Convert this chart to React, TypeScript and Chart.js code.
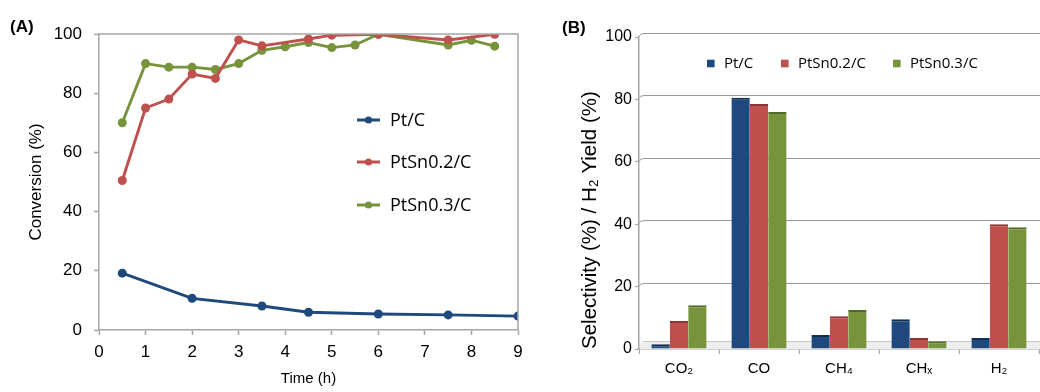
import React, { useEffect, useRef } from 'react';
import { Chart, registerables } from 'chart.js';
Chart.register(...registerables);

// ---------- Data: panel (A) conversion vs time ----------
const ptC_time = [0.5, 2, 3.5, 4.5, 6, 7.5, 9];
const ptC_conv = [19.2, 10.7, 8.1, 6.0, 5.4, 5.1, 4.7];
const ptSn02_time = [0.5, 1, 1.5, 2, 2.5, 3, 3.5, 4.5, 5, 6, 7.5, 8.5];
const ptSn02_conv = [50.5, 75, 78, 86.5, 85, 98, 96, 98.3, 99.6, 99.9, 98, 99.9];
const ptSn03_time = [0.5, 1, 1.5, 2, 2.5, 3, 3.5, 4, 4.5, 5, 5.5, 6, 7.5, 8, 8.5];
const ptSn03_conv = [70, 90, 88.8, 88.8, 88, 90, 94.5, 95.7, 97.1, 95.4, 96.3, 99.9, 96.3, 97.9, 95.9];

// ---------- Data: panel (B) selectivity ----------
const products = ['CO\u2082', 'CO', 'CH\u2084', 'CH\u2093', 'H\u2082'];
const ptC_sel = [1.5, 80.5, 4.5, 9.5, 3.5];
const ptSn02_sel = [9, 78.5, 10.5, 3.5, 40];
const ptSn03_sel = [14, 76, 12.5, 2.5, 39];

const seriesNames = ['Pt/C', 'PtSn0.2/C', 'PtSn0.3/C'];

const BLUE = '#1F497D';
const RED = '#C0504D';
const GREEN = '#77933C';
const BLUE_D = '#142f52';
const RED_D = '#8e3532';
const GREEN_D = '#546a29';
const AXIS = '#a6a6a6';

const FONT = "'Liberation Sans', Arial, sans-serif";
const LFONT = "'Open Sans', sans-serif";

const panelLabel = (text: string, x: number, y: number) => ({
  id: 'panelLabel' + text,
  afterDraw(chart: any) {
    const ctx = chart.ctx;
    ctx.save();
    ctx.font = `bold 17px ${FONT}`;
    ctx.fillStyle = '#000';
    ctx.textBaseline = 'middle';
    ctx.textAlign = 'left';
    ctx.fillText(text, x, y);
    ctx.restore();
  },
});

const boxPlugin = {
  id: 'boxA',
  afterDraw(chart: any) {
    const { ctx, chartArea: a } = chart;
    ctx.save();
    ctx.strokeStyle = AXIS;
    ctx.lineWidth = 1.5;
    ctx.beginPath();
    ctx.moveTo(a.left, a.top);
    ctx.lineTo(a.right, a.top);
    ctx.lineTo(a.right, a.bottom);
    ctx.stroke();
    ctx.restore();
  },
};

const legendA = {
  id: 'legendA',
  afterDraw(chart: any) {
    const ctx = chart.ctx;
    const rows = [120, 162, 205];
    ctx.save();
    chart.data.datasets.forEach((ds: any, i: number) => {
      const y = rows[i];
      ctx.strokeStyle = ds.borderColor;
      ctx.lineWidth = 3;
      ctx.beginPath();
      ctx.moveTo(357, y);
      ctx.lineTo(380, y);
      ctx.stroke();
      ctx.fillStyle = ds.borderColor;
      ctx.beginPath();
      ctx.arc(368.5, y, 3.6, 0, Math.PI * 2);
      ctx.fill();
      ctx.fillStyle = '#000';
      ctx.font = `18px ${LFONT}`;
      ctx.textBaseline = 'middle';
      ctx.textAlign = 'left';
      ctx.fillText(ds.label, 390, y + 1);
    });
    ctx.restore();
  },
};

const legendB = {
  id: 'legendB',
  afterDraw(chart: any) {
    const ctx = chart.ctx;
    const xs = [167, 241, 353];
    const y = 63.5;
    ctx.save();
    chart.data.datasets.forEach((ds: any, i: number) => {
      ctx.fillStyle = ds.backgroundColor;
      ctx.fillRect(xs[i], y - 3.8, 7.6, 7.6);
      ctx.fillStyle = '#000';
      ctx.font = `15px ${LFONT}`;
      ctx.textBaseline = 'middle';
      ctx.textAlign = 'left';
      ctx.fillText(ds.label, xs[i] + 17, y + 0.5);
    });
    ctx.restore();
  },
};

const wallB = {
  id: 'wallB',
  beforeDatasetsDraw(chart: any) {
    const { ctx, chartArea: a, scales } = chart;
    const ys = scales.y;
    ctx.save();
    // floor
    ctx.fillStyle = '#eeeeee';
    ctx.fillRect(a.left + 1, a.bottom - 7, a.right - a.left, 7);
    ctx.strokeStyle = '#c8c8c8';
    ctx.lineWidth = 1;
    ctx.beginPath();
    ctx.moveTo(a.left + 4, a.bottom - 7.5);
    ctx.lineTo(a.right + 2, a.bottom - 7.5);
    ctx.stroke();
    // back wall grid lines
    ctx.strokeStyle = '#9a9a9a';
    ctx.lineWidth = 1;
    for (const v of [20, 40, 60, 80, 100]) {
      const y = Math.round(ys.getPixelForValue(v)) - 3.5;
      ctx.beginPath();
      ctx.moveTo(a.left, y + 3);
      ctx.quadraticCurveTo(a.left + 1, y, a.left + 5, y);
      ctx.lineTo(a.right + 2, y);
      ctx.stroke();
    }
    ctx.restore();
  },
};

export default function App() {
  const refA = useRef<HTMLCanvasElement>(null);
  const refB = useRef<HTMLCanvasElement>(null);

  useEffect(() => {
    const mk = (label: string, xs: number[], ys: number[], color: string) => ({
      label,
      data: xs.map((t, i) => ({ x: t, y: ys[i] })),
      borderColor: color,
      backgroundColor: color,
      borderWidth: 2.9,
      pointRadius: 4.5,
      pointBorderWidth: 0,
      pointBackgroundColor: color,
      tension: 0,
    });

    const chartA = new Chart(refA.current!, {
      type: 'line',
      data: {
        datasets: [
          mk(seriesNames[0], ptC_time, ptC_conv, BLUE),
          mk(seriesNames[1], ptSn02_time, ptSn02_conv, RED),
          mk(seriesNames[2], ptSn03_time, ptSn03_conv, GREEN),
        ],
      },
      options: {
        responsive: false,
        animation: false,
        layout: { padding: { left: 0, right: 22, top: 34, bottom: 0 } },
        plugins: { legend: { display: false }, tooltip: { enabled: false } },
        scales: {
          x: {
            type: 'linear',
            min: 0,
            max: 9,
            ticks: { stepSize: 1, color: '#000', font: { family: FONT, size: 17 }, padding: 7 },
            grid: { drawOnChartArea: false, tickLength: 5, tickColor: AXIS, tickWidth: 1.5 },
            border: { color: AXIS, width: 1.5 },
            title: {
              display: true,
              text: 'Time (h)',
              color: '#000',
              font: { family: FONT, size: 15 },
              padding: { top: 0, bottom: 4 },
            },
            afterFit: (s: any) => {
              s.height = 62;
            },
          },
          y: {
            min: 0,
            max: 100,
            ticks: { stepSize: 20, color: '#000', font: { family: FONT, size: 17 }, padding: 12 },
            grid: { drawOnChartArea: false, tickLength: 5, tickColor: AXIS, tickWidth: 1.5 },
            border: { color: AXIS, width: 1.5 },
            title: {
              display: true,
              text: 'Conversion (%)',
              color: '#000',
              font: { family: FONT, size: 17 },
              padding: { top: 26, bottom: 0 },
            },
            afterFit: (s: any) => {
              s.width = 99;
            },
          },
        },
      } as any,
      plugins: [boxPlugin, legendA, panelLabel('(A)', 10, 27)],
    });

    const mkBar = (label: string, data: number[], color: string, dark: string) => ({
      label,
      data,
      backgroundColor: color,
      borderColor: dark,
      borderWidth: { top: 2, left: 0, right: 0, bottom: 0 },
      borderSkipped: 'bottom',
      categoryPercentage: 0.69,
      barPercentage: 1,
    });

    const chartB = new Chart(refB.current!, {
      type: 'bar',
      data: {
        labels: products,
        datasets: [
          mkBar(seriesNames[0], ptC_sel, BLUE, BLUE_D),
          mkBar(seriesNames[1], ptSn02_sel, RED, RED_D),
          mkBar(seriesNames[2], ptSn03_sel, GREEN, GREEN_D),
        ],
      },
      options: {
        responsive: false,
        animation: false,
        layout: { padding: { left: 0, right: 1, top: 37, bottom: 0 } },
        plugins: { legend: { display: false }, tooltip: { enabled: false } },
        scales: {
          x: {
            ticks: { color: '#000', font: { family: FONT, size: 15 }, padding: 6 },
            grid: { drawOnChartArea: false, offset: true, tickLength: 5, tickColor: AXIS, tickWidth: 1.2 },
            border: { color: AXIS, width: 1.5 },
            afterFit: (s: any) => {
              s.height = 43;
            },
          },
          y: {
            min: 0,
            max: 100,
            ticks: { stepSize: 20, color: '#000', font: { family: FONT, size: 16 }, padding: 3 },
            grid: { drawOnChartArea: false, tickLength: 4, tickColor: AXIS, tickWidth: 1.2 },
            border: { color: AXIS, width: 1.5 },
            title: {
              display: true,
              align: 'start',
              text: 'Selectivity (%) / H\u2082 Yield (%)',
              color: '#000',
              font: { family: FONT, size: 20.5 },
              padding: { top: 38, bottom: 0 },
            },
            afterFit: (s: any) => {
              s.width = 99;
            },
          },
        },
      } as any,
      plugins: [wallB, legendB, panelLabel('(B)', 22, 28)],
    });

    return () => {
      chartA.destroy();
      chartB.destroy();
    };
  }, []);

  return (
    <div style={{ position: 'absolute', left: 0, top: 0, width: 1040, height: 392, background: '#fff' }}>
      <canvas ref={refA} width={540} height={392} style={{ position: 'absolute', left: 0, top: 0 }} />
      <canvas ref={refB} width={500} height={392} style={{ position: 'absolute', left: 540, top: 0 }} />
    </div>
  );
}
